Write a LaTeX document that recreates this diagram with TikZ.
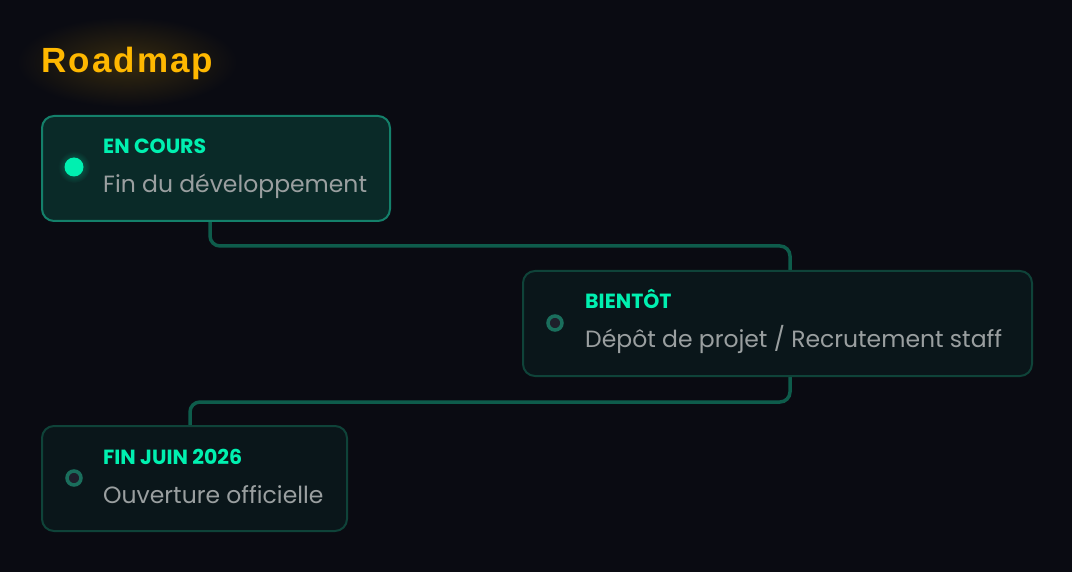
\documentclass[tikz,border=0pt]{standalone}
\usepackage{fontspec}
\setmainfont{Poppins}
\newfontfamily\titlefont{Liberation Sans}
\usetikzlibrary{backgrounds}
\definecolor{bg}{HTML}{0A0B12}
\definecolor{mint}{HTML}{00F0B0}
\definecolor{greytxt}{HTML}{9A9FA0}
\definecolor{amber}{HTML}{FFB800}
\definecolor{activefill}{HTML}{0A2A28}
\definecolor{activeborder}{HTML}{14806A}
\definecolor{idlefill}{HTML}{0A161A}
\definecolor{idleborder}{HTML}{0F4339}
\definecolor{connc}{HTML}{0E5C4B}
\definecolor{ringc}{HTML}{1A6E5C}
\definecolor{ringfill}{HTML}{1E1F2B}
\tikzset{
  card/.style={draw, line width=2pt, rounded corners=12pt, anchor=north west, inner sep=0pt},
  activecard/.style={card, fill=activefill, draw=activeborder},
  idlecard/.style={card, fill=idlefill, draw=idleborder},
  tag/.style={anchor=base west, inner sep=0pt, text=mint, font=\fontsize{20.5}{23}\selectfont\bfseries},
  desc/.style={anchor=base west, inner sep=0pt, text=greytxt, font=\fontsize{23.5}{27}\selectfont},
  conn/.style={draw=connc, line width=3.5pt, rounded corners=10pt},
  ring/.style={circle, draw=ringc, fill=ringfill, line width=3.5pt, minimum size=14pt, inner sep=0pt},
  livedot/.style={circle, fill=mint, minimum size=19pt, inner sep=0pt}
}
\begin{document}
\begin{tikzpicture}[x=1pt,y=-1pt]
\begin{scope}[on background layer]
\fill[bg] (0,0) rectangle (1072,572);
\end{scope}
\useasboundingbox (0,0) rectangle (1072,572);
% title glow
\shade[inner color=amber!18!bg, outer color=bg] (127,62) ellipse [x radius=110pt, y radius=45pt];
\node[anchor=base west, inner sep=0pt, text=amber, font=\titlefont\fontsize{35}{40}\selectfont\bfseries] (title) at (41,73) {\addfontfeature{LetterSpace=6}Roadmap};
% cards
\node[activecard, minimum width=348pt, minimum height=105pt] (b1) at (41,115) {};
\node[idlecard, minimum width=509pt, minimum height=105pt] (b2) at (522,270) {};
\node[idlecard, minimum width=305pt, minimum height=105pt] (b3) at (41,425) {};
% connectors
\begin{scope}[on background layer]
\draw[conn] ([xshift=169pt]b1.south west) -- ++(0,24) -| ([xshift=268pt]b2.north west);
\draw[conn] ([xshift=268pt]b2.south west) -- ++(0,25) -| ([xshift=149pt]b3.north west);
\end{scope}
% card 1
\shade[inner color=mint!40!activefill, outer color=activefill] (74,167) circle (16pt);
\node[livedot] (d1) at (74,167) {};
\node[tag] (t1) at (103,154) {EN COURS};
\node[desc] (s1) at (103,193) {Fin du développement};
% card 2
\node[ring] (d2) at (555,323) {};
\node[tag] (t2) at (585,309) {BIENTÔT};
\node[desc] (s2) at (585,348) {Dépôt de projet / Recrutement staff};
% card 3
\node[ring] (d3) at (74,478) {};
\node[tag] (t3) at (103,464) {FIN JUIN 2026};
\node[desc] (s3) at (103,503) {Ouverture officielle};
\end{tikzpicture}
\end{document}
